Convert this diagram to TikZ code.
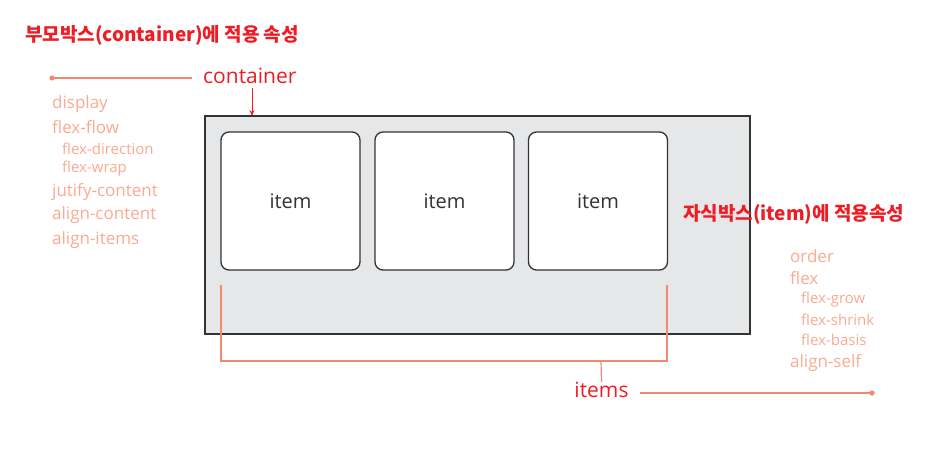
\documentclass[tikz,border=0pt]{standalone}
\usepackage{fontspec}
\setmainfont{Open Sans}
\newfontfamily\kr{Noto Sans CJK KR}
\usetikzlibrary{arrows.meta}
\definecolor{tred}{HTML}{EE1C24}
\definecolor{salmon}{HTML}{F9AA92}
\definecolor{lsalmon}{HTML}{F5866F}
\definecolor{boxgray}{HTML}{E6E7E8}
\definecolor{dark}{HTML}{333333}
\tikzset{
  title/.style={text=tred, font=\kr\bfseries\fontsize{19}{22}\selectfont, inner sep=0pt, anchor=west},
  lbl/.style={text=tred, font=\fontsize{21}{24}\selectfont, inner sep=0pt},
  prop/.style={text=salmon, font=\fontsize{17}{20}\selectfont, inner sep=0pt, anchor=west},
  subprop/.style={text=salmon, font=\fontsize{15}{18}\selectfont, inner sep=0pt, anchor=west},
  itembox/.style={draw=dark, line width=1.3pt, fill=white, rounded corners=8pt, minimum width=139pt, minimum height=138pt, inner sep=0pt, font=\fontsize{20}{24}\selectfont, text=dark},
  guide/.style={draw=lsalmon, line width=1.2pt},
}
\begin{document}
\begin{tikzpicture}[x=1pt,y=-1pt]
\useasboundingbox (0,0) rectangle (943,463);
% container
\node[draw=dark, line width=2.8pt, fill=boxgray, minimum width=545pt, minimum height=218pt, inner sep=0pt] (cont) at (477.5,225) {};
\node[itembox] (i1) at (290.5,201) {item};
\node[itembox] (i2) at (444.5,201) {item};
\node[itembox] (i3) at (598,201) {item};
% titles
\node[title] (t1) at (25,35) {부모박스(container)에 적용 속성};
\node[title] (t2) at (683,214) {자식박스(item)에 적용속성};
% container label
\node[lbl, anchor=west] (cl) at (203,76) {container};
\coordinate (cdot) at (52,78);
\fill[lsalmon] (cdot) circle (2.6pt);
\draw[guide] (cdot) -- (192,78);
\coordinate (ctop) at (252,116);
\draw[tred, line width=0.8pt, -{Stealth[length=6pt,width=5pt]}] (252,88) -- (ctop);
% left list
\node[prop] (p1) at (52,104) {display};
\node[prop] (p2) at (52,127) {flex-flow};
\node[subprop] (p3) at (62,149) {flex-direction};
\node[subprop] (p4) at (62,169) {flex-wrap};
\node[prop] (p5) at (52,192) {jutify-content};
\node[prop] (p6) at (52,215) {align-content};
\node[prop] (p7) at (52,240) {align-items};
% right list
\node[prop] (q1) at (790,256) {order};
\node[prop] (q2) at (790,278) {flex};
\node[subprop] (q3) at (801,300) {flex-grow};
\node[subprop] (q4) at (801,320) {flex-shrink};
\node[subprop] (q5) at (801,340) {flex-basis};
\node[prop] (q6) at (790,363) {align-self};
% items bracket
\coordinate (b1) at (221,285);
\coordinate (b2) at (667,285);
\coordinate (bl) at (221,361);
\coordinate (br) at (667,361);
\coordinate (bt) at (601,361);
\draw[guide] (b1) -- (bl) -- (br) -- (b2);
\node[lbl] (il) at (601.5,390) {items};
\draw[guide] (bt) -- (il.north);
\coordinate (idot) at (872,393);
\draw[guide] (640,393) -- (idot);
\fill[lsalmon] (idot) circle (2.6pt);
\end{tikzpicture}
\end{document}
